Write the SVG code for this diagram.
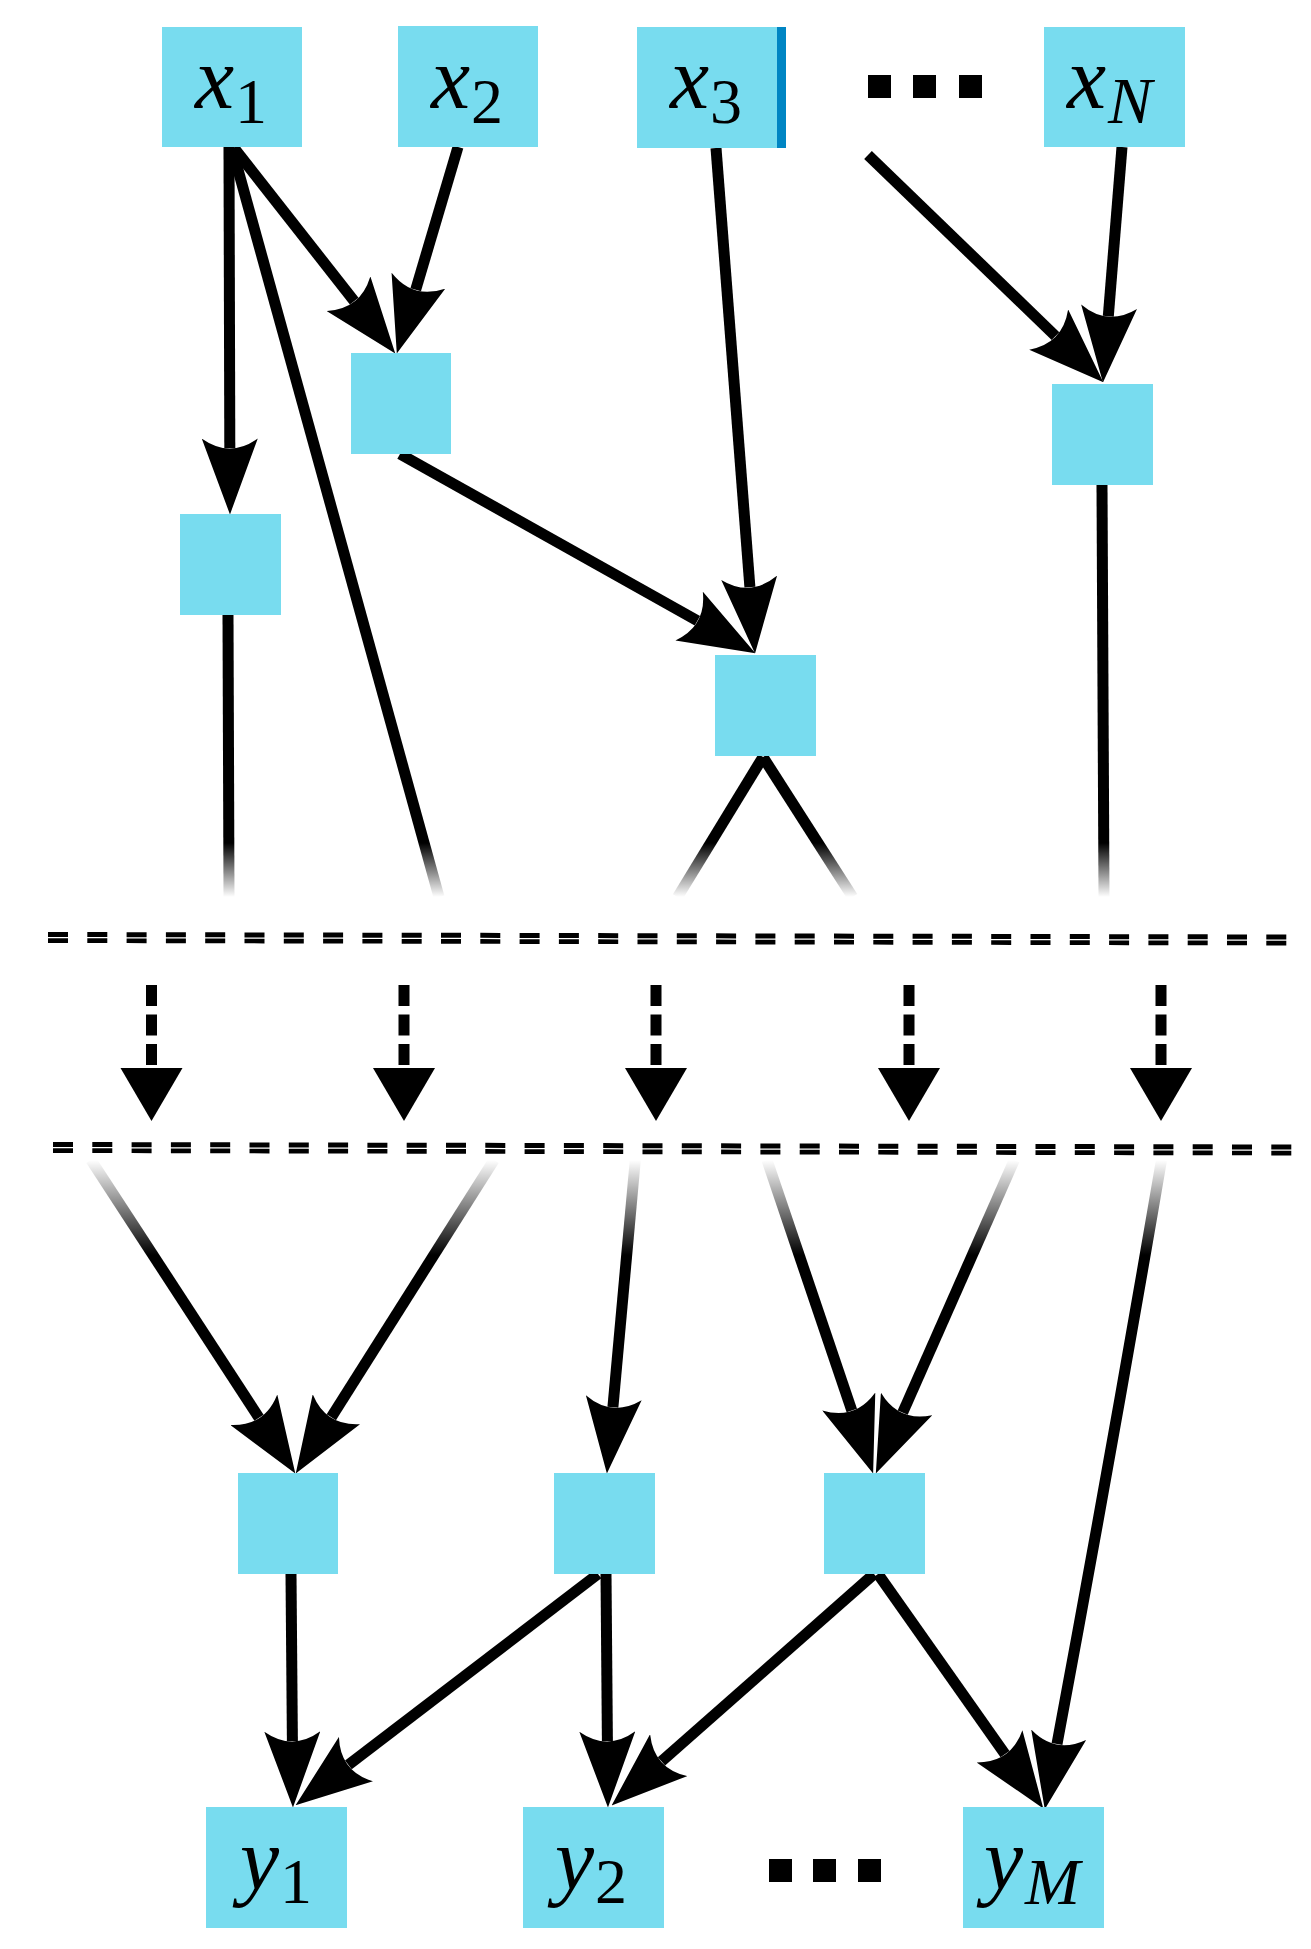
<svg xmlns="http://www.w3.org/2000/svg" width="1311" height="1949" viewBox="0 0 1311 1949">
<style>
.box{fill:#78DCEF;}
.edge{fill:none;stroke:#000;stroke-width:11;}
.arr{marker-end:url(#ah);}
.ft{stroke:url(#fadeTop);}
.fb{stroke:url(#fadeBottom);}
.dv{fill:none;stroke:#000;stroke-width:11;stroke-dasharray:21 8.5;}
.hd{fill:none;stroke:#000;stroke-dasharray:20 19.3;}
.m{font-family:"Liberation Serif","Times New Roman",serif;font-style:italic;font-size:88px;fill:#000;}
.s{font-family:"Liberation Serif","Times New Roman",serif;font-size:64px;fill:#000;}
.si{font-family:"Liberation Serif","Times New Roman",serif;font-style:italic;font-size:66px;fill:#000;}
</style>
<defs>
<marker id="ah" viewBox="0 0 76 56" refX="9.5" refY="28" markerWidth="76" markerHeight="56" markerUnits="userSpaceOnUse" orient="auto">
<path d="M76,28 L0,0 Q20,28 0,56 Z" fill="#000"/>
</marker>
<linearGradient id="fadeTop" gradientUnits="userSpaceOnUse" x1="0" y1="843" x2="0" y2="897">
<stop offset="0" stop-color="#000" stop-opacity="1"/>
<stop offset="1" stop-color="#000" stop-opacity="0"/>
</linearGradient>
<linearGradient id="fadeBottom" gradientUnits="userSpaceOnUse" x1="0" y1="1160" x2="0" y2="1255">
<stop offset="0" stop-color="#000" stop-opacity="0"/>
<stop offset="1" stop-color="#000" stop-opacity="1"/>
</linearGradient>
</defs>
<rect width="1311" height="1949" fill="#fff"/>

<g id="connectors">
<line class="edge arr" x1="229" y1="147" x2="229.8" y2="448"/>
<line class="edge arr" x1="234" y1="148" x2="354.2" y2="301.1"/>
<line class="edge arr" x1="458" y1="147" x2="415.7" y2="289.7"/>
<line class="edge ft" x1="232" y1="148" x2="439" y2="897"/>
<line class="edge ft" x1="228" y1="615" x2="229" y2="897"/>
<line class="edge arr" x1="400" y1="454" x2="697.4" y2="620.7"/>
<line class="edge arr" x1="716" y1="148" x2="749.9" y2="587.2"/>
<line class="edge arr" x1="868" y1="155" x2="1055.5" y2="336.1"/>
<line class="edge arr" x1="1122" y1="147" x2="1108.3" y2="316.2"/>
<line class="edge ft" x1="1102" y1="485" x2="1104" y2="897"/>
<line class="edge ft" x1="763" y1="757" x2="677.6" y2="897"/>
<line class="edge ft" x1="763" y1="757" x2="852.6" y2="897"/>

<g id="layer-arrows">
<line class="dv" x1="151.5" y1="985" x2="151.5" y2="1066"/>
<polygon points="120.5,1068 182.5,1068 151.5,1121" fill="#000"/>
<line class="dv" x1="404" y1="985" x2="404" y2="1066"/>
<polygon points="373,1068 435,1068 404,1121" fill="#000"/>
<line class="dv" x1="656" y1="985" x2="656" y2="1066"/>
<polygon points="625,1068 687,1068 656,1121" fill="#000"/>
<line class="dv" x1="909" y1="985" x2="909" y2="1066"/>
<polygon points="878,1068 940,1068 909,1121" fill="#000"/>
<line class="dv" x1="1161" y1="985" x2="1161" y2="1066"/>
<polygon points="1130,1068 1192,1068 1161,1121" fill="#000"/>
</g>

<line class="edge fb arr" x1="91" y1="1160" x2="259" y2="1417.7"/>
<line class="edge fb arr" x1="494" y1="1160" x2="331.3" y2="1417.2"/>
<line class="edge fb arr" x1="635.3" y1="1160" x2="612.9" y2="1407.3"/>
<line class="edge fb arr" x1="767" y1="1160" x2="851.8" y2="1410.5"/>
<line class="edge fb arr" x1="1014.3" y1="1160" x2="902.7" y2="1412.6"/>
<path class="edge fb arr" d="M1161.5,1160 Q1112,1450 1057,1744"/>

<line class="edge arr" x1="291" y1="1574" x2="292.4" y2="1741"/>
<line class="edge arr" x1="598" y1="1574" x2="348.4" y2="1764.9"/>
<line class="edge arr" x1="606" y1="1574" x2="607.4" y2="1741"/>
<line class="edge arr" x1="874" y1="1574" x2="661.5" y2="1761.4"/>
<line class="edge arr" x1="878" y1="1574" x2="1005" y2="1754.1"/>
</g>

<g id="separators">
<line class="hd" x1="48" y1="934.5" x2="1288" y2="937" stroke-width="5"/>
<line class="hd" x1="48" y1="940.6" x2="1288" y2="943.1" stroke-width="4.7"/>
<line class="hd" x1="53" y1="1144.5" x2="1292" y2="1147" stroke-width="5"/>
<line class="hd" x1="53" y1="1150.6" x2="1292" y2="1153.1" stroke-width="4.7"/>
</g>

<g id="x1"><rect class="box" x="162" y="27" width="140" height="120"/>
<text><tspan class="m" x="195" y="108">x</tspan><tspan class="s" x="235" y="123">1</tspan></text></g>
<g id="x2"><rect class="box" x="398" y="26" width="140" height="121"/>
<text><tspan class="m" x="431" y="108">x</tspan><tspan class="s" x="471" y="123">2</tspan></text></g>
<g id="x3"><rect class="box" x="637" y="27" width="140" height="121"/><rect x="777" y="27" width="9" height="121" fill="#0085C3"/>
<text><tspan class="m" x="670" y="108">x</tspan><tspan class="s" x="710" y="123">3</tspan></text></g>
<g id="dots-top"><rect x="868" y="75" width="23" height="23" fill="#000"/><rect x="913" y="75" width="23" height="23" fill="#000"/><rect x="959" y="75" width="23" height="23" fill="#000"/></g>
<g id="xN"><rect class="box" x="1044" y="27" width="141" height="120"/>
<text><tspan class="m" x="1067" y="108">x</tspan><tspan class="si" x="1108" y="123">N</tspan></text></g>

<g id="nA"><rect class="box" x="351" y="353" width="100" height="101"/></g>
<g id="nB"><rect class="box" x="180" y="514" width="101" height="101"/></g>
<g id="nC"><rect class="box" x="1052" y="384" width="101" height="101"/></g>
<g id="nD"><rect class="box" x="715" y="655" width="101" height="101"/></g>
<g id="nE"><rect class="box" x="238" y="1473" width="100" height="101"/></g>
<g id="nF"><rect class="box" x="554" y="1473" width="101" height="101"/></g>
<g id="nG"><rect class="box" x="824" y="1473" width="101" height="101"/></g>

<g id="y1"><rect class="box" x="206" y="1807" width="141" height="121"/>
<text><tspan class="m" x="240" y="1889">y</tspan><tspan class="s" x="280" y="1903">1</tspan></text></g>
<g id="y2"><rect class="box" x="523" y="1807" width="141" height="121"/>
<text><tspan class="m" x="555" y="1889">y</tspan><tspan class="s" x="595" y="1903">2</tspan></text></g>
<g id="dots-bottom"><rect x="769" y="1859" width="23" height="23" fill="#000"/><rect x="813" y="1859" width="23" height="23" fill="#000"/><rect x="858" y="1859" width="23" height="23" fill="#000"/></g>
<g id="yM"><rect class="box" x="963" y="1807" width="141" height="121"/>
<text><tspan class="m" x="984" y="1889">y</tspan><tspan class="si" x="1025" y="1904">M</tspan></text></g>
</svg>
